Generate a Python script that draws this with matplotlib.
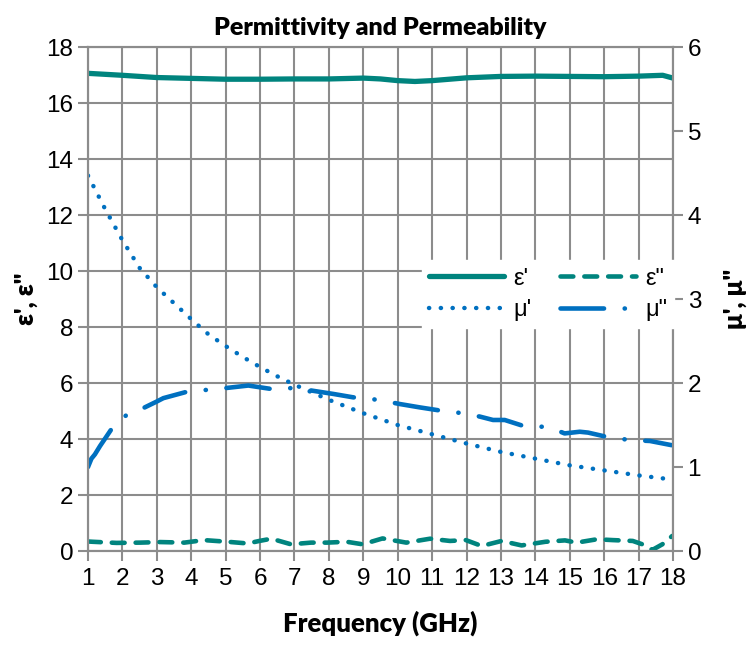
import matplotlib
matplotlib.use('Agg')
import matplotlib.pyplot as plt

# values
freq_eps1 = [1, 2, 3, 4, 5, 6, 7, 8, 9, 9.5, 10, 10.5, 11, 12, 13, 14, 15, 16, 17, 17.7, 18]
eps1 = [17.06, 16.99, 16.91, 16.88, 16.85, 16.85, 16.86, 16.86, 16.89, 16.86, 16.80, 16.77,
        16.80, 16.90, 16.95, 16.96, 16.95, 16.94, 16.96, 16.99, 16.89]

freq_eps2 = [1.0, 1.14, 1.83, 2.52, 3.1, 3.8, 4.37, 5.06, 5.64, 5.98, 6.33, 6.9, 7.48, 7.94, 8.52,
             8.98, 9.56, 10.25, 10.94, 11.52, 11.98, 12.44, 13.02, 13.6, 14.29, 14.86, 15.2,
             15.79, 16.25, 16.83, 17.11, 17.4, 17.69, 17.98]
eps2 = [0.34, 0.33, 0.29, 0.30, 0.32, 0.30, 0.39, 0.33, 0.27, 0.36, 0.44, 0.24, 0.30, 0.30, 0.33,
        0.24, 0.45, 0.30, 0.44, 0.36, 0.39, 0.18, 0.36, 0.20, 0.33, 0.38, 0.30,
        0.42, 0.39, 0.36, 0.24, 0.04, 0.24, 0.54]

freq_mu1 = [1, 1.5, 2, 2.5, 3, 3.5, 4, 4.5, 5, 5.5, 6, 6.5, 7, 8, 9, 10, 11, 12, 13, 14, 15, 16, 17, 18]
mu1 = [4.47, 4.07, 3.70, 3.37, 3.14, 2.95, 2.76, 2.58, 2.44, 2.31, 2.19, 2.08, 1.98, 1.80, 1.64,
       1.50, 1.39, 1.28, 1.18, 1.10, 1.02, 0.96, 0.90, 0.85]

freq_mu2 = [1.0, 1.1, 1.2, 1.35, 1.68, 2.12, 2.5, 3.0, 3.19, 3.82, 4.48, 5.0, 5.66, 6.31, 6.95, 7.5,
            8.13, 8.7, 9.43, 10.06, 10.64, 11.27, 11.9, 12.39, 12.77, 13.11, 13.72, 14.36, 14.85,
            15.29, 15.53, 16.17, 16.8, 17.33, 17.96]
mu2 = [1.00, 1.10, 1.15, 1.25, 1.45, 1.62, 1.68, 1.78, 1.82, 1.89, 1.92, 1.94, 1.97, 1.93, 1.94, 1.91,
       1.87, 1.83, 1.80, 1.75, 1.71, 1.67, 1.64, 1.60, 1.56, 1.56, 1.48, 1.48, 1.40,
       1.42, 1.41, 1.35, 1.32, 1.31, 1.26]

teal = '#00847E'
blue = '#0070C0'
grey = '#8C8C8C'

plt.rcParams['font.family'] = ['Liberation Sans', 'DejaVu Sans']

fig = plt.figure(figsize=(7.54, 6.45), dpi=100)
ax = fig.add_axes([0.1167, 0.1457, 0.7759, 0.7814])
ax2 = ax.twinx()

l1, = ax.plot(freq_eps1, eps1, color=teal, lw=3.8, solid_capstyle='round', label="ε'")
l2, = ax.plot(freq_eps2, eps2, color=teal, lw=3.3, dashes=(2.8, 2.4), dash_capstyle='round',
              label='ε"')
l3, = ax2.plot(freq_mu1, mu1, color=blue, lw=3.2, dashes=(0.05, 2.6), dash_capstyle='round',
               label="μ'")
l4, = ax2.plot(freq_mu2, mu2, color=blue, lw=3.3, dashes=(9.5, 4.5, 0.05, 4.5), dash_capstyle='round',
               label='μ"')

ax.set_xlim(1, 18)
ax.set_ylim(0, 18)
ax.set_xticks(range(1, 19))
ax.set_yticks(range(0, 19, 2))
ax2.set_ylim(0, 6)
ax2.set_yticks(range(0, 7))

ax.grid(True, color=grey, lw=1.5)
ax.set_axisbelow(True)
for a in (ax, ax2):
    for s in a.spines.values():
        s.set_color(grey)
        s.set_linewidth(1.5)
    a.tick_params(colors=grey, labelcolor='black', labelsize=17.5, width=1.5, length=7, direction='out')
ax.tick_params(axis='x', pad=5)

bold = dict(family=['Lato', 'DejaVu Sans'], weight='heavy')
ax.set_title('Permittivity and Permeability', fontsize=18, pad=9, **bold)
ax.set_xlabel('Frequency (GHz)', fontsize=18.5, labelpad=15, **bold)
ax.set_ylabel("ε', ε\"", fontsize=18.5, labelpad=6, **bold)
ax2.set_ylabel("μ', μ\"", fontsize=18.5, labelpad=16, **bold)

leg = ax2.legend(handles=[l1, l3, l2, l4], ncol=2, loc='upper left', bbox_to_anchor=(0.55, 0.6),
                 frameon=True, fancybox=False, edgecolor='white', framealpha=1, fontsize=17,
                 handlelength=3.2, columnspacing=1.2, handletextpad=0.4, labelspacing=0.4,
                 borderpad=0.3)

fig.savefig('out.png', dpi=100)
